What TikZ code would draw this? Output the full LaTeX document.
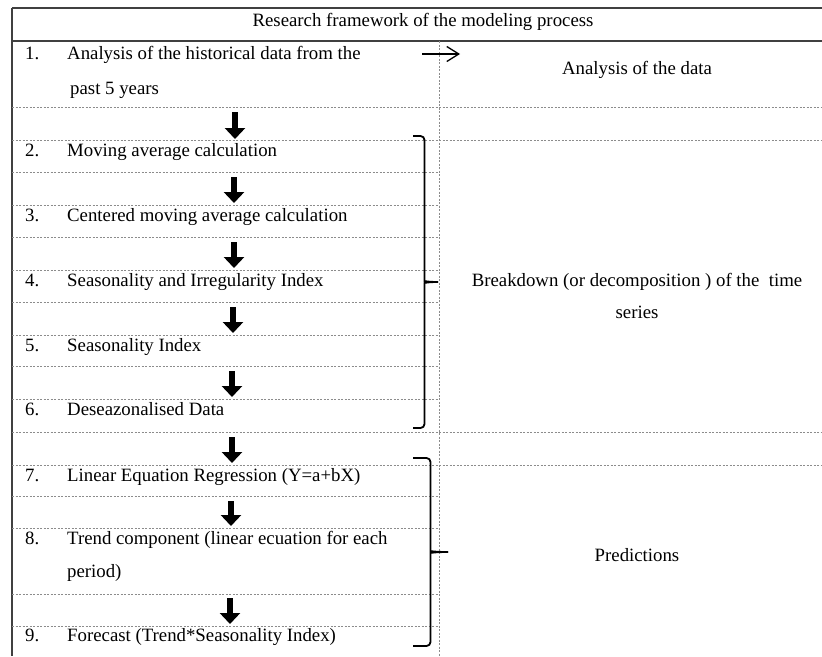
\documentclass[tikz,border=0pt]{standalone}
\usepackage{fontspec}
\setmainfont{Liberation Serif}
\usetikzlibrary{arrows.meta}
\begin{document}
\begin{tikzpicture}[x=1pt,y=-1pt,
  rule/.style={draw=black!75, line width=1.3pt},
  grid/.style={draw=black!45, line width=0.6pt, dash pattern=on 2.2pt off 1.3pt},
  txt/.style={anchor=base west, inner sep=0pt, font=\fontsize{18.8}{35}\selectfont, align=left},
  num/.style={anchor=base west, inner sep=0pt, font=\fontsize{18.8}{22}\selectfont},
  rtxt/.style={anchor=base, inner sep=0pt, font=\fontsize{18.8}{32}\selectfont, align=center},
  flow/.style={line width=6.5pt, -{Triangle[width=20pt,length=11pt]}},
  thin arrow/.style={line width=1.3pt, -{Straight Barb[length=12pt,width=15pt]}},
  bracestyle/.style={draw=black, line width=1.8pt, rounded corners=4pt},
]
\useasboundingbox (0,0) rectangle (822,656);

% table rules
\draw[rule] (12,8) -- (822,8);
\draw[rule] (12,41) -- (822,41);
\draw[rule] (12,8) -- (12,656);
\draw[grid] (439,41) -- (439,656);
\foreach \yy in {107,140,432,465} {\draw[grid] (12,\yy) -- (822,\yy);}
\foreach \yy in {172,205,237,270,302,335,366,399,496,528,594,626} {\draw[grid] (12,\yy) -- (439,\yy);}

% title
\node[rtxt] (title) at (423,26) {Research framework of the modeling process};

% numbers
\node[num] (n1) at (25,59.2) {1.};
\node[num] (n2) at (25,156.2) {2.};
\node[num] (n3) at (25,221.2) {3.};
\node[num] (n4) at (25,286.2) {4.};
\node[num] (n5) at (25,351.2) {5.};
\node[num] (n6) at (25,415.2) {6.};
\node[num] (n7) at (25,481.2) {7.};
\node[num] (n8) at (25,544.2) {8.};
\node[num] (n9) at (25,641.2) {9.};

% steps (base anchor of a multi-line node = baseline of its last line)
\node[txt] (s1) at (67,94.2) {Analysis of the historical data from the\\\hspace*{3pt}past 5 years};
\node[txt] (s2) at (67,156.2) {Moving average calculation};
\node[txt] (s3) at (67,221.2) {Centered moving average calculation};
\node[txt] (s4) at (67,286.2) {Seasonality and Irregularity Index};
\node[txt] (s5) at (67,351.2) {Seasonality Index};
\node[txt] (s6) at (67,415.2) {Deseazonalised Data};
\node[txt] (s7) at (67,481.2) {Linear Equation Regression (Y=a+bX)};
\node[txt, font=\fontsize{18.8}{33}\selectfont] (s8) at (67,577.2) {Trend component (linear ecuation for each\\period)};
\node[txt] (s9) at (67,641.2) {Forecast (Trend*Seasonality Index)};

% right column
\node[rtxt] (r1) at (637,74.2) {Analysis of the data};
\node[rtxt] (r2) at (637,318.2) {Breakdown (or decomposition ) of the\ \ time\\series};
\node[rtxt] (r3) at (637,561.2) {Predictions};

% down arrows
\coordinate (a1t) at (235,112); \coordinate (a1b) at (235,139);
\coordinate (a2t) at (234,177); \coordinate (a2b) at (234,203);
\coordinate (a3t) at (234,242); \coordinate (a3b) at (234,268);
\coordinate (a4t) at (233,307); \coordinate (a4b) at (233,333);
\coordinate (a5t) at (232,371); \coordinate (a5b) at (232,397);
\coordinate (a6t) at (232,437); \coordinate (a6b) at (232,463);
\coordinate (a7t) at (231,501); \coordinate (a7b) at (231,526);
\coordinate (a8t) at (230,598); \coordinate (a8b) at (230,624);
\foreach \i in {1,...,8} {\draw[flow] (a\i t) -- (a\i b);}

% right arrow
\coordinate (ra1) at (422,54); \coordinate (ra2) at (460,54);
\draw[thin arrow] (ra1) -- (ra2);

% brace 1
\coordinate (b1top) at (413,136); \coordinate (b1tip) at (438,282); \coordinate (b1bot) at (413,428);
\draw[bracestyle] (b1top) -- (424.5,136) -- (424.5,277) .. controls (424.5,281) and (428,282) .. (b1tip);
\draw[bracestyle] (b1tip) .. controls (428,282) and (424.5,283) .. (424.5,287) -- (424.5,428) -- (b1bot);

% brace 2
\coordinate (b2top) at (413,458); \coordinate (b2tip) at (448,552); \coordinate (b2bot) at (413,646);
\draw[bracestyle] (b2top) -- (430.5,458) -- (430.5,547) .. controls (430.5,551) and (434,552) .. (b2tip);
\draw[bracestyle] (b2tip) .. controls (434,552) and (430.5,553) .. (430.5,557) -- (430.5,646) -- (b2bot);
\end{tikzpicture}
\end{document}
